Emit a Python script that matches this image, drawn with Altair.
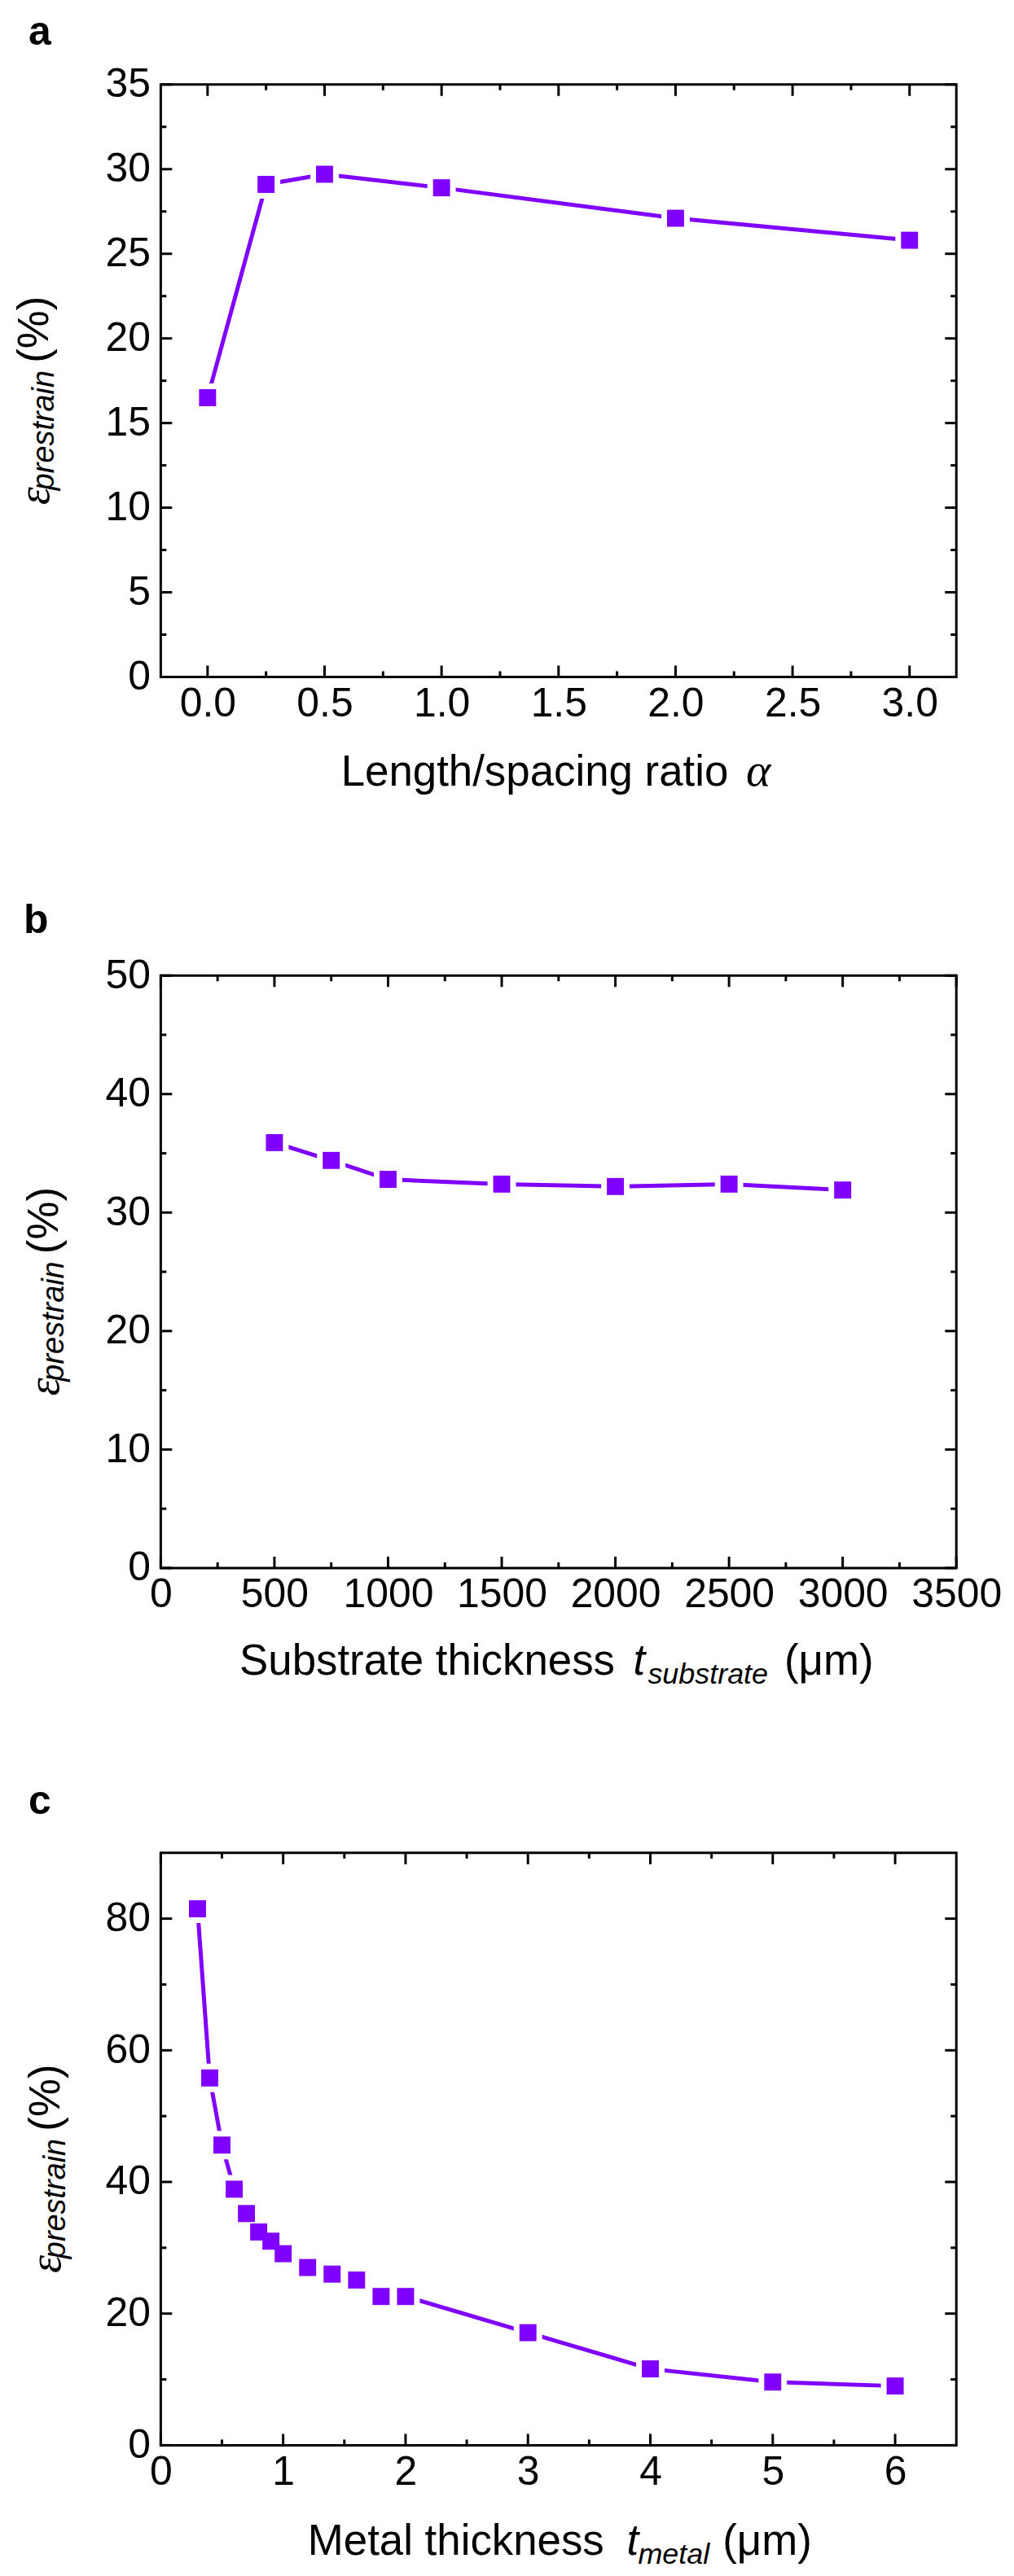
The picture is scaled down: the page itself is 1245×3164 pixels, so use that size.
import altair as alt
import pandas as pd

PURPLE = "#8000FF"
SANS = "Liberation Sans"
SERIF = "Liberation Serif"
W, H = 980, 730

# ---------------- data ----------------
A_X = [0.0, 0.25, 0.5, 1.0, 2.0, 3.0]
A_Y = [16.5, 29.1, 29.7, 28.9, 27.1, 25.8]
A_XDOM = [-0.2, 3.2]
A_YDOM = [0, 35]
A_XMAJOR = [0.0, 0.5, 1.0, 1.5, 2.0, 2.5, 3.0]
A_XMINOR = [0.25, 0.75, 1.25, 1.75, 2.25, 2.75]
A_YMAJOR = [0, 5, 10, 15, 20, 25, 30, 35]
A_YMINOR = [2.5, 7.5, 12.5, 17.5, 22.5, 27.5, 32.5]

B_X = [500, 750, 1000, 1500, 2000, 2500, 3000]
B_Y = [35.9, 34.4, 32.8, 32.4, 32.2, 32.4, 31.9]
B_XDOM = [0, 3500]
B_YDOM = [0, 50]
B_XMAJOR = [0, 500, 1000, 1500, 2000, 2500, 3000, 3500]
B_XMINOR = [250, 750, 1250, 1750, 2250, 2750, 3250]
B_YMAJOR = [0, 10, 20, 30, 40, 50]
B_YMINOR = [5, 15, 25, 35, 45]

C_X = [0.3, 0.4, 0.5, 0.6, 0.7, 0.8, 0.9, 1.0, 1.2, 1.4, 1.6, 1.8, 2.0, 3.0, 4.0, 5.0, 6.0]
C_Y = [81.5, 55.8, 45.6, 38.9, 35.2, 32.4, 31.0, 29.1, 27.0, 26.0, 25.1, 22.6, 22.6, 17.1, 11.6, 9.6, 9.0]
C_XDOM = [0, 6.5]
C_YDOM = [0, 90]
C_XMAJOR = [0, 1, 2, 3, 4, 5, 6]
C_XMINOR = [0.5, 1.5, 2.5, 3.5, 4.5, 5.5]
C_YMAJOR = [0, 20, 40, 60, 80]
C_YMINOR = [10, 30, 50, 70]

LETTERS = ["a", "b", "c"]
YTITLE = ["ε", "prestrain", "(%)"]
A_XTITLE = ["Length/spacing ratio", "α"]
B_XTITLE = ["Substrate thickness", "t", "substrate", "(μm)"]
C_XTITLE = ["Metal thickness", "t", "metal", "(μm)"]

TITLE_SIZE = 53
SUB_SIZE = 38
XSUB_SIZE = 36


def txt(s, x, y, font=SANS, size=TITLE_SIZE, style="normal", weight="normal", angle=0):
    return alt.Chart(pd.DataFrame({"t": [s]})).mark_text(
        font=font, fontSize=size, fontStyle=style, fontWeight=weight,
        angle=angle, align="left", baseline="alphabetic", color="black"
    ).encode(x=alt.value(x), y=alt.value(y), text="t:N")


def panel(xs, ys, xdom, ydom, xmaj, xmin, ymaj, ymin, xfmt, yfmt,
          letter, letter_xy, ytx, xtitle_layers):
    data = pd.DataFrame({"x": xs, "y": ys})
    xsc = alt.Scale(domain=xdom, nice=False, zero=False)
    ysc = alt.Scale(domain=ydom, nice=False, zero=False)
    common = dict(ticks=False, tickSize=0, domain=False, grid=False, title=None,
                  labelFont=SANS, labelFontSize=50, labelColor="black",
                  labelFlush=False, labelOverlap=False)
    xaxis = alt.Axis(values=xmaj, format=xfmt, labelPadding=8, **common)
    yaxis = alt.Axis(values=ymaj, format=yfmt, labelPadding=13, **common)
    X = alt.X("x:Q", scale=xsc, axis=xaxis)
    Y = alt.Y("y:Q", scale=ysc, axis=yaxis)
    base = alt.Chart(data)
    line = base.mark_line(color=PURPLE, strokeWidth=5).encode(x=X, y=Y)
    halo = base.mark_square(size=1225, color="white", opacity=1, strokeWidth=0).encode(x=X, y=Y)
    pts = base.mark_square(size=441, color=PURPLE, opacity=1, strokeWidth=0).encode(x=X, y=Y)

    def xt(vals, top, length):
        d = pd.DataFrame({"v": vals})
        y0, y1 = (0, length) if top else (H, H - length)
        return alt.Chart(d).mark_rule(color="black", strokeWidth=3).encode(
            x=alt.X("v:Q", scale=xsc, axis=xaxis), y=alt.value(y0), y2=alt.value(y1))

    def yt(vals, right, length):
        d = pd.DataFrame({"v": vals})
        x0, x1 = (W, W - length) if right else (0, length)
        return alt.Chart(d).mark_rule(color="black", strokeWidth=3).encode(
            y=alt.Y("v:Q", scale=ysc, axis=yaxis), x=alt.value(x0), x2=alt.value(x1))

    ticks = [xt(xmaj, False, 14), xt(xmaj, True, 14), xt(xmin, False, 7), xt(xmin, True, 7),
             yt(ymaj, False, 14), yt(ymaj, True, 14), yt(ymin, False, 7), yt(ymin, True, 7)]

    lab = txt(letter, letter_xy[0], letter_xy[1], size=50, weight="bold")
    yt1 = txt(YTITLE[0], ytx, 518, font=SERIF, size=56, style="italic", angle=270)
    yt2 = txt(YTITLE[1], ytx + 6, 500, size=SUB_SIZE, style="italic", angle=270)
    yt3 = txt(YTITLE[2], ytx - 1, 343, size=TITLE_SIZE, angle=270)

    return alt.layer(line, halo, pts, *ticks, lab, yt1, yt2, yt3, *xtitle_layers).properties(
        width=W, height=H)


pa = panel(A_X, A_Y, A_XDOM, A_YDOM, A_XMAJOR, A_XMINOR, A_YMAJOR, A_YMINOR, ".1f", "d",
           LETTERS[0], (-163, -49), -138,
           [txt(A_XTITLE[0], 222, 864), txt(A_XTITLE[1], 721, 864, font=SERIF, size=58, style="italic")])

pb = panel(B_X, B_Y, B_XDOM, B_YDOM, B_XMAJOR, B_XMINOR, B_YMAJOR, B_YMINOR, "d", "d",
           LETTERS[1], (-169, -52), -126,
           [txt(B_XTITLE[0], 97, 862), txt(B_XTITLE[1], 582, 862, style="italic"),
            txt(B_XTITLE[2], 600, 873, size=XSUB_SIZE, style="italic"), txt(B_XTITLE[3], 768, 862)])

pc = panel(C_X, C_Y, C_XDOM, C_YDOM, C_XMAJOR, C_XMINOR, C_YMAJOR, C_YMINOR, "d", "d",
           LETTERS[2], (-163, -48), -124,
           [txt(C_XTITLE[0], 181, 865), txt(C_XTITLE[1], 574, 865, style="italic"),
            txt(C_XTITLE[2], 588, 876, size=XSUB_SIZE, style="italic"), txt(C_XTITLE[3], 692, 865)])

chart = alt.vconcat(alt.vconcat(pa, pb, spacing=126), pc, spacing=109).properties(
    padding={"left": 5, "top": 0, "right": 5, "bottom": 5}
).configure_view(stroke="black", strokeWidth=3)

chart.save("out.html", embed_options={"renderer": "svg", "actions": False})
